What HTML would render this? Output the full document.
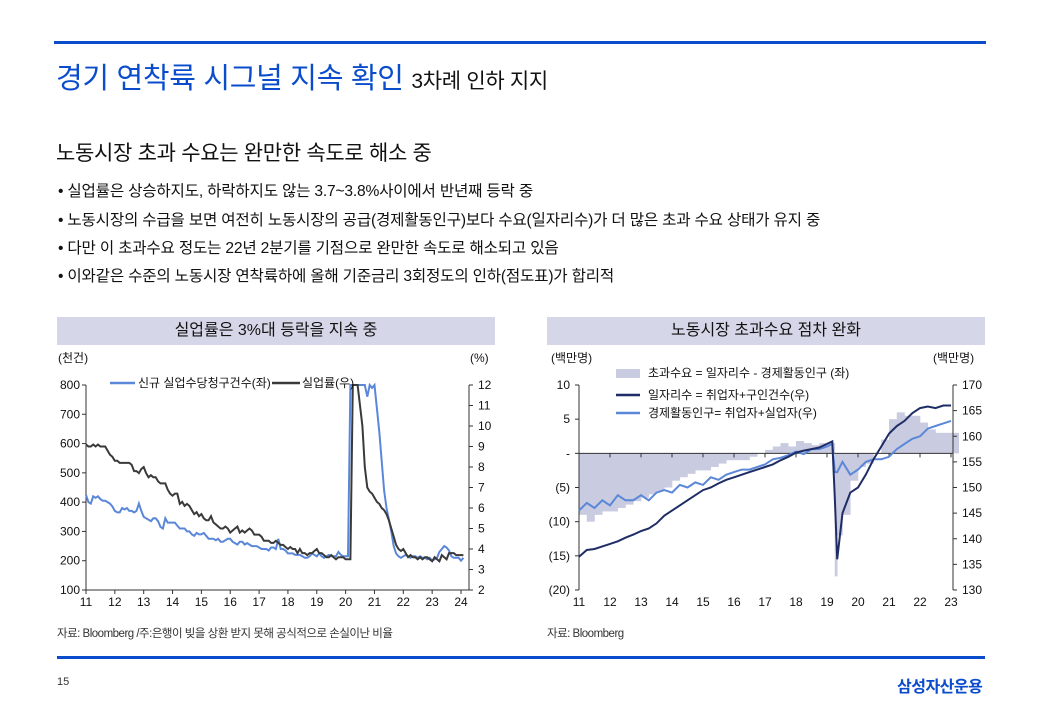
<!DOCTYPE html>
<html><head><meta charset="utf-8">
<style>
body{margin:0;width:1040px;height:720px;background:#fff;position:relative;overflow:hidden;font-family:"Liberation Sans","Noto Sans CJK KR",sans-serif;color:#111}
.a{position:absolute;white-space:nowrap}
.bl{font-size:15.6px;letter-spacing:-0.2px}
</style></head><body>
<div class="a" style="left:54px;top:41px;width:932px;height:3px;background:#0a4ccc"></div>
<div class="a" style="left:56px;top:55px;font-size:29px;color:#0a4ccc;letter-spacing:-0.3px">경기 연착륙 시그널 지속 확인 <span style="font-size:21px;color:#111">3차례 인하 지지</span></div>
<div class="a" style="left:56px;top:137px;font-size:21px;letter-spacing:-0.3px">노동시장 초과 수요는 완만한 속도로 해소 중</div>
<div class="a bl" style="left:58px;top:179px">• 실업률은 상승하지도, 하락하지도 않는 3.7~3.8%사이에서 반년째 등락 중</div>
<div class="a bl" style="left:58px;top:208px">• 노동시장의 수급을 보면 여전히 노동시장의 공급(경제활동인구)보다 수요(일자리수)가 더 많은 초과 수요 상태가 유지 중</div>
<div class="a bl" style="left:58px;top:236px">• 다만 이 초과수요 정도는 22년 2분기를 기점으로 완만한 속도로 해소되고 있음</div>
<div class="a bl" style="left:58px;top:264px">• 이와같은 수준의 노동시장 연착륙하에 올해 기준금리 3회정도의 인하(점도표)가 합리적</div>
<div class="a" style="left:57px;top:317px;width:438px;height:28px;background:#d5d7e8;text-align:center;line-height:28px;font-size:16px">실업률은 3%대 등락을 지속 중</div>
<div class="a" style="left:547px;top:317px;width:438px;height:28px;background:#d5d7e8;text-align:center;line-height:28px;font-size:16px">노동시장 초과수요 점차 완화</div>
<svg class="a" style="left:0;top:0" width="1040" height="720" id="svg" font-family="Liberation Sans, Noto Sans CJK KR, sans-serif" font-size="12"></svg>
<div class="a" style="left:57px;top:625px;font-size:11.5px;color:#333;letter-spacing:-0.5px">자료: Bloomberg /주:은행이 빚을 상환 받지 못해 공식적으로 손실이난 비율</div>
<div class="a" style="left:547px;top:625px;font-size:11.5px;color:#333;letter-spacing:-0.5px">자료: Bloomberg</div>
<div class="a" style="left:57px;top:656px;width:928px;height:3px;background:#0a4ccc"></div>
<div class="a" style="left:57px;top:676px;font-size:11px;color:#333">15</div>
<div class="a" style="left:897px;top:673px;font-size:16px;font-weight:bold;color:#0a4ccc;letter-spacing:-0.5px">삼성자산운용</div>
<script>
// ---- left chart data (monthly, 2011.0 .. 2024.1) ----
const claims=[425,400,395,420,415,420,410,405,405,400,395,385,
370,365,365,380,375,380,370,370,365,370,395,370,
350,345,340,335,345,345,335,315,310,345,330,330,
330,330,320,310,310,310,300,300,290,285,295,290,
290,295,285,275,275,275,270,275,265,265,270,275,
275,265,260,255,265,265,255,260,255,250,250,250,
245,240,240,240,235,245,245,240,275,240,240,235,
225,225,225,220,220,220,215,210,210,215,225,220,
215,225,215,210,215,220,215,215,215,230,220,215,
215,215,900,900,900,900,900,900,900,760,800,790,
800,720,640,540,440,380,340,300,250,225,215,210,
215,220,215,210,215,215,210,215,210,210,205,210,
200,205,210,230,240,250,245,235,215,210,210,210,200,210];
const urate=[9.1,9.0,9.0,9.1,9.0,9.1,9.0,9.0,9.0,8.8,8.6,8.5,
8.3,8.3,8.2,8.2,8.2,8.2,8.2,8.1,7.8,7.8,7.7,7.9,
8.0,7.7,7.5,7.6,7.5,7.5,7.3,7.2,7.2,7.2,6.9,6.7,
6.6,6.7,6.7,6.2,6.3,6.1,6.2,6.1,5.9,5.7,5.8,5.6,
5.7,5.5,5.4,5.4,5.6,5.3,5.2,5.1,5.0,5.0,5.1,5.0,
4.8,4.9,5.0,5.1,4.8,4.9,4.8,4.9,5.0,4.9,4.7,4.7,
4.7,4.6,4.4,4.4,4.4,4.3,4.3,4.4,4.3,4.2,4.2,4.1,
4.0,4.1,4.0,4.0,3.8,4.0,3.8,3.8,3.7,3.8,3.8,3.9,
4.0,3.8,3.8,3.7,3.6,3.6,3.7,3.6,3.5,3.6,3.6,3.6,
3.5,3.5,3.5,14.7,13.2,12.5,11.0,10.0,8.0,7.0,6.8,6.7,
6.5,6.3,6.2,6.0,5.9,5.7,5.4,5.0,4.6,4.2,4.0,3.9,
4.0,3.8,3.6,3.7,3.6,3.6,3.5,3.6,3.5,3.6,3.6,3.5,
3.4,3.6,3.5,3.4,3.7,3.6,3.5,3.8,3.8,3.8,3.7,3.7,3.7,3.7];
const leftTicks=[100,200,300,400,500,600,700,800];
const rightTicks=[2,3,4,5,6,7,8,9,10,11,12];
const yearLabelsL=[11,12,13,14,15,16,17,18,19,20,21,22,23,24];
// ---- right chart data ----
const dates=[11,11.25,11.5,11.75,12,12.25,12.5,12.75,13,13.25,13.5,13.75,14,14.25,14.5,14.75,15,15.25,15.5,15.75,16,16.25,16.5,16.75,17,17.25,17.5,17.75,18,18.25,18.5,18.75,19,19.17,19.25,19.33,19.5,19.75,20,20.25,20.5,20.75,21,21.25,21.5,21.75,22,22.25,22.5,22.75,23];
const jobs=[136.5,137.8,138,138.5,139,139.5,140.2,140.8,141.5,142,143,144.5,145.5,146.5,147.5,148.5,149.5,150,150.8,151.5,152,152.5,153,153.5,154,154.5,155.3,156,156.8,157.2,157.5,157.8,158.5,159,148,136,145,149,150,152.5,155.5,158,160.5,162,163,164.5,165.5,165.8,165.5,166,166];
const laborForce=[145.5,147,146,147.5,146.5,148.5,147.5,147.5,148.5,147.5,149,149.5,149,150.5,150,151,150.5,152,151.5,152.5,153,153.5,153.5,154,154.5,155.5,155.8,156.3,157,156.5,157.5,157.5,158,158.5,153,153,155,152.5,153.5,155,155.5,155.5,156,157.5,158.5,159.5,160,161.5,162,162.5,163];
const excess=[-9,-10,-9,-8.5,-8.5,-8,-7.5,-7,-6.5,-6,-5.5,-5,-4,-3.5,-3,-2.5,-2.5,-2,-1.5,-1,-1,-1,-0.5,0,0.5,1,1.5,1,1.8,1.5,1.2,1.5,1.5,1.5,-18,-12,-9,-4,-2,-1.5,0,2,5,6,5.5,5.5,4.5,3.5,3,3,3];
const rLeftTicks=[-20,-15,-10,-5,0,5,10];
const rLeftLabels=['(20)','(15)','(10)','(5)','-','5','10'];
const rRightTicks=[130,135,140,145,150,155,160,165,170];
const yearLabelsR=[11,12,13,14,15,16,17,18,19,20,21,22,23];

const svg=document.getElementById('svg');const NS='http://www.w3.org/2000/svg';
function mk(t,a,p){const e=document.createElementNS(NS,t);for(const k in a)e.setAttribute(k,a[k]);(p||svg).appendChild(e);return e;}
function txt(x,y,s,anchor,p){const e=mk('text',{x:x,y:y,'text-anchor':anchor||'middle',fill:'#111'},p);e.textContent=s;return e;}

// LEFT axes
const Lx0=86,Lx1=461,Ly0=590,Ly1=385;
const lx=t=>Lx0+(t-11)/13*(Lx1-Lx0);
const ly=v=>Ly0-(Math.min(v,800)-100)/700*(Ly0-Ly1);
const ry=v=>Ly0-(Math.min(v,12)-2)/10*(Ly0-Ly1);
const gL=mk('g',{});


mk('line',{x1:Lx0,y1:Ly1,x2:Lx0,y2:Ly0,stroke:'#333'},gL);
mk('line',{x1:Lx0,y1:Ly0,x2:469,y2:Ly0,stroke:'#333'},gL);
mk('line',{x1:469,y1:Ly1,x2:469,y2:Ly0,stroke:'#333'},gL);
leftTicks.forEach(v=>{mk('line',{x1:Lx0-4,x2:Lx0,y1:ly(v),y2:ly(v),stroke:'#333'},gL);const t=txt(80,ly(v)+4,v,'end',gL);});
rightTicks.forEach(v=>{mk('line',{x1:469,x2:473,y1:ry(v),y2:ry(v),stroke:'#333'},gL);const t=txt(478,ry(v)+4,v,'start',gL);});
yearLabelsL.forEach(v=>{mk('line',{x1:lx(v),x2:lx(v),y1:Ly0,y2:Ly0+4,stroke:'#333'},gL);const t=txt(lx(v),606,v,'middle',gL);});
txt(58,362,'(천건)','start',gL);
txt(470,362,'(%)','start',gL);
let p1='';claims.forEach((v,i)=>{p1+=(i?'L':'M')+lx(11+i/12).toFixed(1)+','+ly(v).toFixed(1);});
const cl=mk('path',{d:p1,fill:'none',stroke:'#5b87d9','stroke-width':2},gL);

let p2='';urate.forEach((v,i)=>{p2+=(i?'L':'M')+lx(11+i/12).toFixed(1)+','+ry(v).toFixed(1);});
const ul=mk('path',{d:p2,fill:'none',stroke:'#3a3a3a','stroke-width':2},gL);

mk('line',{x1:110,x2:135,y1:383,y2:383,stroke:'#5b87d9','stroke-width':2.5},gL);
txt(138,387,'신규 실업수당청구건수(좌)','start',gL);
mk('line',{x1:272,x2:300,y1:383,y2:383,stroke:'#3a3a3a','stroke-width':2.5},gL);
txt(302,387,'실업률(우)','start',gL);

// RIGHT axes
const Rx0=579,Rx1=951,Ry0=590,Ry1=385,RA=953;
const rx=t=>Rx0+(t-11)/12*(Rx1-Rx0);
const yl=v=>Ry0-(v+20)/30*(Ry0-Ry1);
const yr=v=>Ry0-(v-130)/40*(Ry0-Ry1);
const gR=mk('g',{});


excess.forEach((v,i)=>{const x0=rx(dates[i]);const x1=i<dates.length-1?rx(dates[i+1]):x0+7.7;const b=mk('rect',{x:x0,y:Math.min(yl(v),yl(0)),width:x1-x0+0.3,height:Math.abs(yl(v)-yl(0)),fill:'#c9cbe0'},gR);});
mk('line',{x1:Rx0,y1:Ry1,x2:Rx0,y2:Ry0,stroke:'#333'},gR);
mk('line',{x1:RA,y1:Ry1,x2:RA,y2:Ry0,stroke:'#333'},gR);
mk('line',{x1:Rx0,y1:yl(0),x2:RA,y2:yl(0),stroke:'#333'},gR);
rLeftTicks.forEach((v,i)=>{mk('line',{x1:Rx0-4,x2:Rx0,y1:yl(v),y2:yl(v),stroke:'#333'},gR);const t=txt(570,yl(v)+4,rLeftLabels[i],'end',gR);});
rRightTicks.forEach(v=>{mk('line',{x1:RA,x2:RA+4,y1:yr(v),y2:yr(v),stroke:'#333'},gR);const t=txt(962,yr(v)+4,v,'start',gR);});
yearLabelsR.forEach(v=>{mk('line',{x1:rx(v),x2:rx(v),y1:yl(0),y2:yl(0)+4,stroke:'#333'},gR);const t=txt(rx(v),606,v,'middle',gR);});
txt(551,362,'(백만명)','start',gR);
txt(933,362,'(백만명)','start',gR);
let p3='';laborForce.forEach((v,i)=>{p3+=(i?'L':'M')+rx(dates[i]).toFixed(1)+','+yr(v).toFixed(1);});
const lf=mk('path',{d:p3,fill:'none',stroke:'#5b87d9','stroke-width':2},gR);

let p4='';jobs.forEach((v,i)=>{p4+=(i?'L':'M')+rx(dates[i]).toFixed(1)+','+yr(v).toFixed(1);});
const jl=mk('path',{d:p4,fill:'none',stroke:'#1f2d66','stroke-width':2},gR);

mk('rect',{x:616,y:369,width:24,height:9,fill:'#c9cbe0'},gR);
txt(648,377,'초과수요 = 일자리수 - 경제활동인구 (좌)','start',gR);
mk('line',{x1:616,x2:640,y1:395,y2:395,stroke:'#1f2d66','stroke-width':2.5},gR);
txt(648,399,'일자리수 = 취업자+구인건수(우)','start',gR);
mk('line',{x1:616,x2:640,y1:413,y2:413,stroke:'#5b87d9','stroke-width':2.5},gR);
txt(648,417,'경제활동인구= 취업자+실업자(우)','start',gR);
</script>
</body></html>
